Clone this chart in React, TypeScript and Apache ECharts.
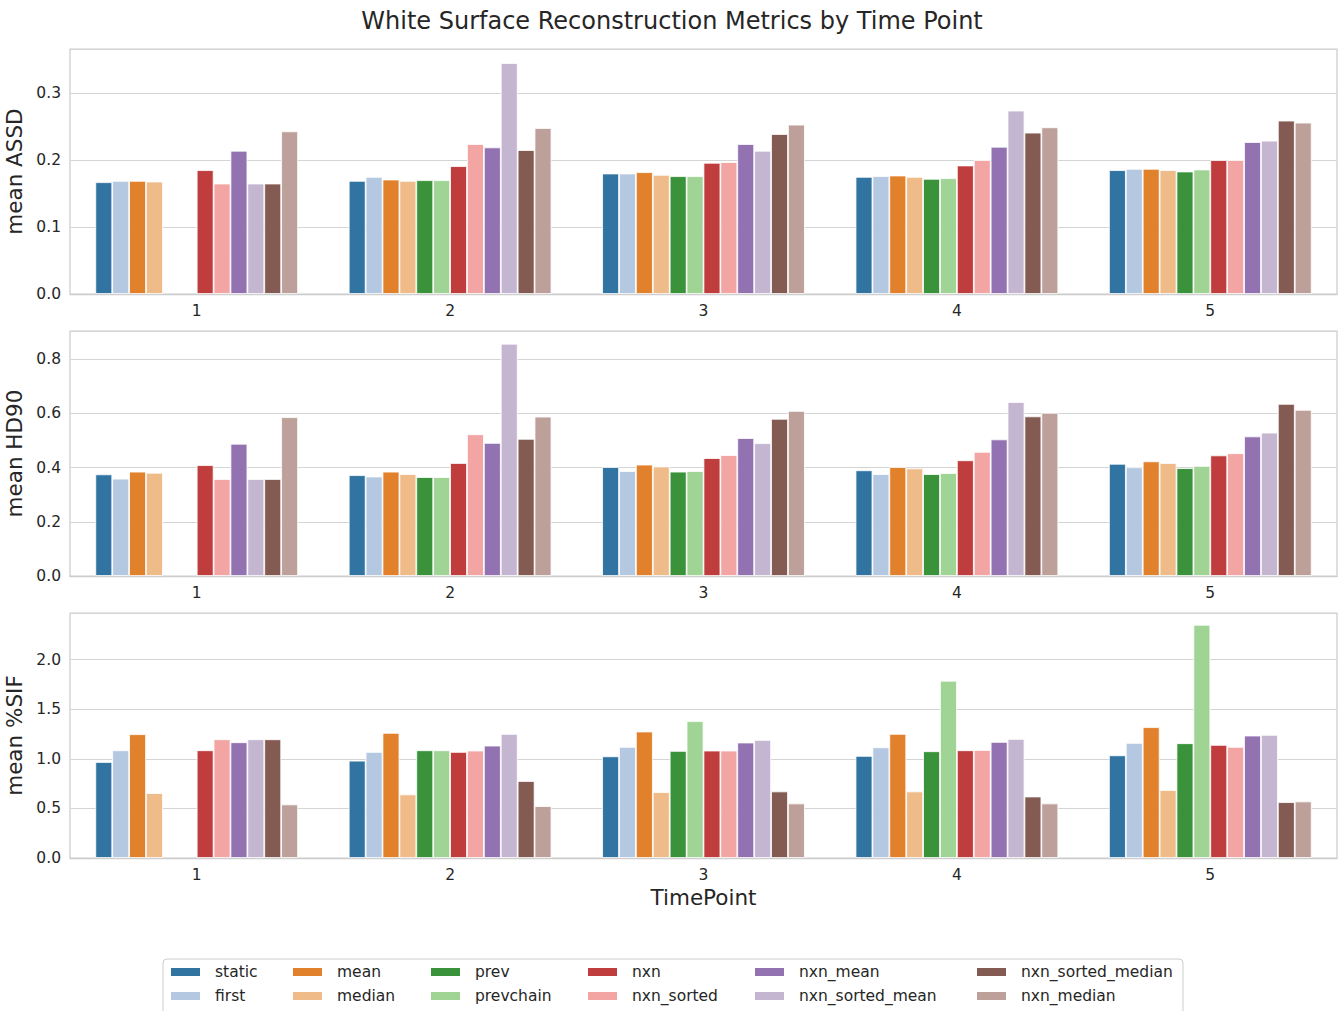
import React, { useEffect, useRef } from "react";
import * as echarts from "echarts";

const FONT = "DejaVu Sans";
const TEXT = "#262626";

const categories = ["1", "2", "3", "4", "5"];

const methods = [
  "static",
  "first",
  "mean",
  "median",
  "prev",
  "prevchain",
  "nxn",
  "nxn_sorted",
  "nxn_mean",
  "nxn_sorted_mean",
  "nxn_sorted_median",
  "nxn_median",
];

const colors = [
  "#3274a1",
  "#b5c8e1",
  "#e1812c",
  "#eebb89",
  "#3a923a",
  "#9fd495",
  "#c03d3e",
  "#f2a5a3",
  "#9372b2",
  "#c4b6d0",
  "#845b53",
  "#bea09a",
];

// rows follow `methods`, columns follow `categories`
const assdValues: (number | null)[][] = [
  [0.167, 0.169, 0.18, 0.175, 0.185],
  [0.169, 0.175, 0.18, 0.176, 0.187],
  [0.169, 0.171, 0.182, 0.177, 0.187],
  [0.168, 0.169, 0.178, 0.175, 0.185],
  [null, 0.17, 0.176, 0.172, 0.183],
  [null, 0.17, 0.176, 0.173, 0.186],
  [0.185, 0.191, 0.196, 0.192, 0.2],
  [0.165, 0.224, 0.197, 0.2, 0.2],
  [0.214, 0.219, 0.224, 0.22, 0.227],
  [0.165, 0.345, 0.214, 0.274, 0.229],
  [0.165, 0.215, 0.239, 0.241, 0.259],
  [0.243, 0.248, 0.253, 0.249, 0.256],
];

const hd90Values: (number | null)[][] = [
  [0.375, 0.372, 0.402, 0.39, 0.414],
  [0.359, 0.367, 0.387, 0.376, 0.401],
  [0.385, 0.385, 0.411, 0.402, 0.423],
  [0.381, 0.376, 0.404, 0.397, 0.417],
  [null, 0.365, 0.385, 0.376, 0.398],
  [null, 0.365, 0.387, 0.38, 0.406],
  [0.409, 0.417, 0.435, 0.427, 0.445],
  [0.358, 0.523, 0.446, 0.458, 0.453],
  [0.488, 0.491, 0.509, 0.504, 0.515],
  [0.358, 0.857, 0.49, 0.642, 0.529],
  [0.358, 0.506, 0.58, 0.589, 0.635],
  [0.586, 0.588, 0.609, 0.602, 0.613],
];

const sifValues: (number | null)[][] = [
  [0.968, 0.981, 1.025, 1.029, 1.035],
  [1.086, 1.069, 1.12, 1.116, 1.16],
  [1.248, 1.261, 1.275, 1.251, 1.319],
  [0.654, 0.641, 0.664, 0.671, 0.685],
  [null, 1.086, 1.079, 1.076, 1.157],
  [null, 1.086, 1.379, 1.787, 2.351],
  [1.086, 1.069, 1.083, 1.086, 1.14],
  [1.197, 1.083, 1.083, 1.089, 1.12],
  [1.167, 1.133, 1.164, 1.17, 1.234],
  [1.197, 1.251, 1.19, 1.2, 1.241],
  [1.197, 0.776, 0.671, 0.62, 0.563],
  [0.54, 0.523, 0.55, 0.55, 0.57],
];

const panelNames = ["mean ASSD", "mean HD90", "mean %SIF"];
const panelMax = [0.366, 0.904, 2.47];
const panelInterval = [0.1, 0.2, 0.5];

export default function App() {
  const ref = useRef<HTMLDivElement>(null);

  useEffect(() => {
    if (!ref.current) return;
    const chart = echarts.init(ref.current, null, { renderer: "svg" });
    const panels = [assdValues, hd90Values, sifValues];
    const tops = [49, 331, 613];

    const grids = tops.map((t) => ({
      left: 70,
      top: t,
      width: 1267,
      height: 245,
      show: true,
      borderColor: "#cccccc",
      borderWidth: 1.25,
      backgroundColor: "transparent",
      containLabel: false,
      outerBoundsMode: "none",
    }));

    const xAxes = tops.map((_, g) => ({
      type: "category",
      gridIndex: g,
      data: categories,
      axisLine: { show: true, lineStyle: { color: "#cccccc", width: 1.25 } },
      axisTick: { show: false },
      axisLabel: { color: TEXT, fontSize: 15.5, fontFamily: FONT, margin: 9 },
      splitLine: { show: false },
      ...(g === 2
        ? {
            name: "TimePoint",
            nameLocation: "middle",
            nameGap: 28,
            nameTextStyle: { color: TEXT, fontSize: 21.5, fontFamily: FONT },
          }
        : {}),
    }));

    const yAxes = tops.map((_, g) => {
      const iv = panelInterval[g];
      return {
        type: "value",
        gridIndex: g,
        min: 0,
        max: panelMax[g],
        interval: iv,
        axisLine: { show: false },
        axisTick: { show: false },
        axisLabel: {
          color: TEXT,
          fontSize: 15.5,
          fontFamily: FONT,
          margin: 9,
          showMaxLabel: false,
          formatter: (v: number) =>
            Math.abs(v / iv - Math.round(v / iv)) < 1e-6 ? v.toFixed(1) : "",
        },
        splitLine: { show: true, lineStyle: { color: "#d5d5d5", width: 1 } },
        name: panelNames[g],
        nameLocation: "middle",
        nameGap: 31,
        nameTextStyle: { color: TEXT, fontSize: 21.5, fontFamily: FONT },
      };
    });

    const series: any[] = [];
    panels.forEach((vals, g) => {
      methods.forEach((m, i) => {
        series.push({
          type: "bar",
          name: m,
          xAxisIndex: g,
          yAxisIndex: g,
          data: vals[i],
          barGap: "0%",
          barCategoryGap: "20%",
          itemStyle: { color: colors[i], borderColor: "#ffffff", borderWidth: 0.8 },
          emphasis: { disabled: true },
        });
      });
    });

    const legendLefts = [169, 291, 429, 586, 753, 975];
    const legends = legendLefts.map((left, c) => ({
      orient: "vertical",
      left,
      top: 964,
      padding: 0,
      itemWidth: 31,
      itemHeight: 10,
      itemGap: 8,
      icon: "rect",
      selectedMode: false,
      data: [methods[c * 2], methods[c * 2 + 1]],
      textStyle: {
        color: TEXT,
        fontSize: 15.5,
        fontFamily: FONT,
        lineHeight: 16,
        padding: [0, 0, 0, 9],
      },
    }));

    chart.setOption({
      animation: false,
      backgroundColor: "#ffffff",
      textStyle: { fontFamily: FONT },
      title: {
        text: "White Surface Reconstruction Metrics by Time Point",
        left: "center",
        top: 4,
        textStyle: { color: TEXT, fontSize: 24, fontWeight: "normal", fontFamily: FONT },
      },
      grid: grids,
      xAxis: xAxes,
      yAxis: yAxes,
      legend: legends,
      series,
      graphic: [
        {
          type: "rect",
          shape: { x: 163, y: 959, width: 1020, height: 80, r: 4 },
          style: { fill: "none", stroke: "#cccccc", lineWidth: 1 },
          silent: true,
          z: -1,
        },
      ],
    });

    return () => chart.dispose();
  }, []);

  return (
    <div
      ref={ref}
      style={{ position: "absolute", left: 0, top: 0, width: 1344, height: 1011 }}
    />
  );
}
